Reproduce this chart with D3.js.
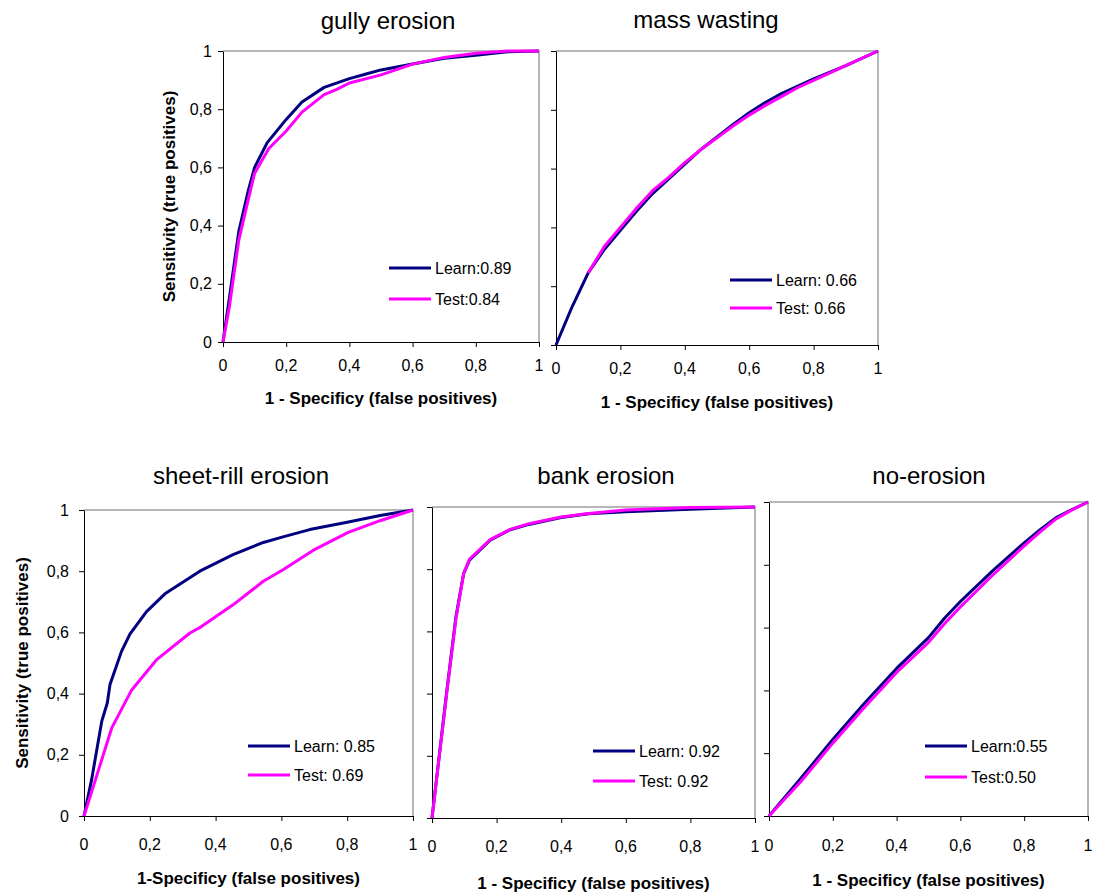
<!DOCTYPE html>
<html>
<head>
<meta charset="utf-8">
<script src="https://cdn.jsdelivr.net/npm/d3@7"></script>
<style>
  body { margin: 0; background: #fff; }
  text { font-family: "Liberation Sans", Arial, sans-serif; fill: #000; }
</style>
</head>
<body>
<svg id="chart" width="1095" height="895"></svg>
<script>
// ---- data ----
const tickValues = [0, 0.2, 0.4, 0.6, 0.8, 1];
const tickLabels = ["0", "0,2", "0,4", "0,6", "0,8", "1"];
const panelTitles = ["gully erosion", "mass wasting", "sheet-rill erosion", "bank erosion", "no-erosion"];
const xAxisTitles = [
  "1 - Specificy (false positives)",
  "1 - Specificy (false positives)",
  "1-Specificy (false positives)",
  "1 - Specificy (false positives)",
  "1 - Specificy (false positives)"
];
const yAxisTitle = "Sensitivity (true positives)";
const learnLabels = ["Learn:0.89", "Learn: 0.66", "Learn: 0.85", "Learn: 0.92", "Learn:0.55"];
const testLabels = ["Test:0.84", "Test: 0.66", "Test: 0.69", "Test: 0.92", "Test:0.50"];

// ROC points as [false positive rate, true positive rate]
const gullyLearn = [[0,0],[0.02,0.15],[0.05,0.38],[0.08,0.52],[0.1,0.6],[0.14,0.685],[0.2,0.765],[0.25,0.825],[0.32,0.875],[0.4,0.905],[0.45,0.92],[0.5,0.935],[0.6,0.955],[0.7,0.975],[0.8,0.985],[0.9,0.997],[1,1]];
const gullyTest  = [[0,0],[0.02,0.12],[0.05,0.35],[0.08,0.49],[0.1,0.58],[0.145,0.665],[0.2,0.725],[0.25,0.79],[0.32,0.85],[0.36,0.868],[0.4,0.89],[0.5,0.918],[0.6,0.955],[0.7,0.978],[0.8,0.992],[0.9,1],[1,1]];

const massLearn = [[0,0],[0.05,0.13],[0.1,0.245],[0.15,0.325],[0.2,0.39],[0.25,0.455],[0.3,0.515],[0.35,0.565],[0.4,0.615],[0.45,0.665],[0.55,0.75],[0.6,0.79],[0.65,0.825],[0.7,0.855],[0.8,0.905],[0.9,0.95],[1,1]];
const massTest  = [[0.1,0.245],[0.15,0.335],[0.2,0.4],[0.25,0.465],[0.3,0.525],[0.35,0.57],[0.4,0.62],[0.45,0.665],[0.55,0.745],[0.6,0.782],[0.65,0.815],[0.7,0.845],[0.75,0.875],[0.8,0.9],[0.9,0.95],[1,1]];

const sheetLearn = [[0,0],[0.023,0.118],[0.054,0.31],[0.071,0.37],[0.079,0.43],[0.114,0.538],[0.14,0.595],[0.19,0.668],[0.246,0.726],[0.352,0.8],[0.453,0.854],[0.545,0.894],[0.605,0.912],[0.686,0.936],[0.8,0.96],[0.9,0.982],[1,1]];
const sheetTest  = [[0,0],[0.049,0.167],[0.084,0.287],[0.145,0.412],[0.22,0.51],[0.322,0.598],[0.357,0.619],[0.453,0.69],[0.545,0.767],[0.605,0.805],[0.696,0.868],[0.803,0.927],[0.9,0.965],[1,1]];

const bankLearn = [[0,0],[0.046,0.41],[0.074,0.646],[0.098,0.786],[0.116,0.829],[0.18,0.893],[0.242,0.927],[0.3,0.944],[0.4,0.966],[0.485,0.978],[0.6,0.985],[0.8,0.993],[1,1]];
const bankTest  = [[0,0],[0.046,0.405],[0.074,0.64],[0.098,0.786],[0.116,0.832],[0.18,0.895],[0.242,0.928],[0.3,0.946],[0.4,0.968],[0.485,0.979],[0.6,0.99],[0.8,0.998],[1,1]];

const noLearn = [[0,0],[0.1,0.12],[0.2,0.244],[0.3,0.36],[0.4,0.47],[0.5,0.568],[0.55,0.63],[0.6,0.683],[0.7,0.78],[0.8,0.87],[0.85,0.912],[0.9,0.95],[0.95,0.976],[1,1]];
const noTest  = [[0,0],[0.1,0.11],[0.2,0.232],[0.3,0.347],[0.4,0.457],[0.5,0.553],[0.55,0.612],[0.6,0.666],[0.7,0.766],[0.8,0.86],[0.85,0.905],[0.9,0.946],[0.95,0.975],[1,1]];

const learnSeries = [gullyLearn, massLearn, sheetLearn, bankLearn, noLearn];
const testSeries = [gullyTest, massTest, sheetTest, bankTest, noTest];

// ---- layout ----
const layout = [
  { left: 223, right: 539, top: 51, bottom: 342, titleX: 388, titleY: 29, tickY: 371, axisTitleY: 404,
    yLabels: true, yTickX: 212, yTitleX: 175, legendX: 389, legendY: [268, 299] },
  { left: 556, right: 878, top: 51, bottom: 345, titleX: 706, titleY: 28, tickY: 374, axisTitleY: 408,
    yLabels: false, legendX: 730, legendY: [280, 308] },
  { left: 84, right: 413, top: 510, bottom: 816, titleX: 241, titleY: 484, tickY: 850, axisTitleY: 884,
    yLabels: true, yTickX: 69, yTitleX: 28, legendX: 248, legendY: [746, 775] },
  { left: 432, right: 755, top: 507, bottom: 818, titleX: 606, titleY: 484, tickY: 852, axisTitleY: 889,
    yLabels: false, legendX: 593, legendY: [751, 781] },
  { left: 769, right: 1088, top: 502, bottom: 816, titleX: 929, titleY: 484, tickY: 851, axisTitleY: 886,
    yLabels: false, legendX: 925, legendY: [746, 777] }
];

const learnColor = "#000080";
const testColor = "#ff00ff";

const svg = d3.select("#chart");

layout.forEach((p, i) => {
  const x = d3.scaleLinear().domain([0, 1]).range([p.left, p.right]);
  const y = d3.scaleLinear().domain([0, 1]).range([p.bottom, p.top]);
  const g = svg.append("g");

  // frame: grey top and right edges
  g.append("path")
    .attr("d", `M${x(0)},${y(1)}H${x(1)}V${y(0)}`)
    .attr("fill", "none")
    .attr("stroke", "#a0a0a0")
    .attr("stroke-width", 1.5);

  // left axis
  const yAxis = d3.axisLeft(y).tickValues(tickValues).tickSize(5).tickSizeOuter(0).tickFormat("");
  const ya = g.append("g").attr("transform", `translate(${x(0)},0)`).call(yAxis);
  ya.selectAll("path, line").attr("stroke", "#000").attr("stroke-width", 1);

  // bottom axis
  const xAxis = d3.axisBottom(x).tickValues(tickValues).tickSize(5).tickSizeOuter(0).tickFormat("");
  const xa = g.append("g").attr("transform", `translate(0,${y(0)})`).call(xAxis);
  xa.selectAll("path, line").attr("stroke", "#000").attr("stroke-width", 1);

  // x tick labels
  g.selectAll(".xt").data(tickValues).enter().append("text")
    .attr("x", d => x(d))
    .attr("y", p.tickY)
    .attr("text-anchor", "middle")
    .attr("font-size", 16)
    .text((d, k) => tickLabels[k]);

  if (p.yLabels) {
    g.selectAll(".yt").data(tickValues).enter().append("text")
      .attr("x", p.yTickX)
      .attr("y", d => y(d) + 5.5)
      .attr("text-anchor", "end")
      .attr("font-size", 16)
      .text((d, k) => tickLabels[k]);
    g.append("text")
      .attr("transform", `translate(${p.yTitleX},${(p.top + p.bottom) / 2}) rotate(-90)`)
      .attr("text-anchor", "middle")
      .attr("font-size", 17)
      .attr("font-weight", "bold")
      .text(yAxisTitle);
  }

  // panel title
  g.append("text")
    .attr("x", p.titleX)
    .attr("y", p.titleY)
    .attr("text-anchor", "middle")
    .attr("font-size", 24)
    .text(panelTitles[i]);

  // x axis title
  g.append("text")
    .attr("x", (p.left + p.right) / 2)
    .attr("y", p.axisTitleY)
    .attr("text-anchor", "middle")
    .attr("font-size", 17)
    .attr("font-weight", "bold")
    .text(xAxisTitles[i]);

  // curves
  const line = d3.line().x(d => x(d[0])).y(d => y(d[1]));
  g.append("path").datum(learnSeries[i])
    .attr("d", line).attr("fill", "none")
    .attr("stroke", learnColor).attr("stroke-width", 3).attr("stroke-linejoin", "round");
  g.append("path").datum(testSeries[i])
    .attr("d", line).attr("fill", "none")
    .attr("stroke", testColor).attr("stroke-width", 3).attr("stroke-linejoin", "round");

  // legend
  const entries = [[learnLabels[i], learnColor], [testLabels[i], testColor]];
  entries.forEach((e, k) => {
    const ly = p.legendY[k];
    g.append("line")
      .attr("x1", p.legendX).attr("x2", p.legendX + 42)
      .attr("y1", ly).attr("y2", ly)
      .attr("stroke", e[1]).attr("stroke-width", 3);
    g.append("text")
      .attr("x", p.legendX + 46)
      .attr("y", ly + 5.5)
      .attr("font-size", 16)
      .text(e[0]);
  });
});
</script>
</body>
</html>
